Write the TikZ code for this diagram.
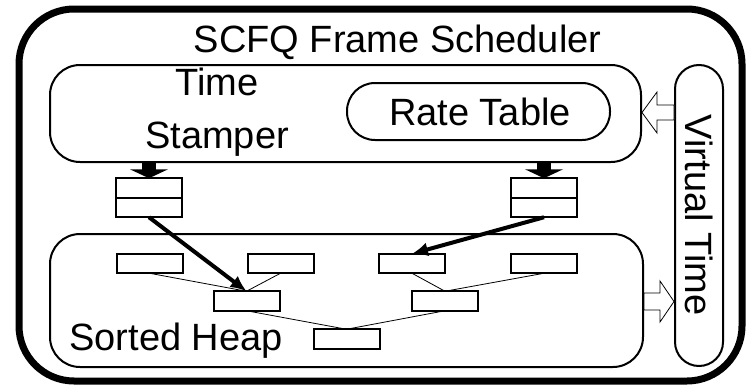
\documentclass[tikz,border=0pt]{standalone}
\usepackage{fontspec}
\setmainfont{Liberation Sans}
\usetikzlibrary{arrows.meta}

\begin{document}
\begin{tikzpicture}[x=1pt, y=-1pt, every node/.style={font=\fontsize{38}{53}\selectfont, inner sep=0pt},
	box/.style={draw, line width=2pt, rounded corners=#1},
	slot/.style={draw, line width=2pt, outer sep=0pt, minimum width=66pt, minimum height=19.5pt},
	link/.style={line width=0.8pt},
	push/.style={line width=4pt, -{Latex[length=16pt,width=14pt]}},
	feed/.style={line width=14pt, -{Triangle[length=9pt,width=38pt]}},
	hollow/.style={draw, line width=0.8pt, fill=white}]
	\useasboundingbox (0,0) rectangle (747,388);
	\node[box=55pt, line width=7pt, minimum width=723pt, minimum height=372pt] (frame) at (380.5,195) {};
	\node[anchor=base] (title) at (397.5,52) {SCFQ Frame Scheduler};
	\node[box=30pt, minimum width=591pt, minimum height=97pt] (stamper) at (345.5,113.5) {};
	\node[align=center] (stamplbl) at (217,112) {Time\\Stamper};
	\node[box=28pt, minimum width=263pt, minimum height=57pt] (rates) at (478.5,111.5) {};
	\node[anchor=base] (rateslbl) at (480,125) {Rate Table};
	\node[box=24pt, minimum width=48pt, minimum height=301pt] (vtime) at (699,215.5) {};
	\node[rotate=-90] (vtimelbl) at (699,215) {Virtual Time};
	\node[box=30pt, minimum width=593pt, minimum height=133pt] (heap) at (346.5,300.5) {};
	\node[anchor=base] (heaplbl) at (176,350) {Sorted Heap};

	\node[slot] (qA1) at (149,188) {};
	\node[slot, anchor=north] (qA2) at (qA1.south) {};
	\node[slot] (qB1) at (544,188) {};
	\node[slot, anchor=north] (qB2) at (qB1.south) {};

	\node[slot] (h1) at (149.5,263.5) {};
	\node[slot] (h2) at (280.5,263.5) {};
	\node[slot] (h3) at (412,263.5) {};
	\node[slot] (h4) at (544,263.5) {};
	\node[slot] (h5) at (246.5,301) {};
	\node[slot] (h6) at (445,301) {};
	\node[slot] (h7) at (346.5,339) {};

	\draw[link] (h1.south) -- (h5.north);
	\draw[link] (h2.south) -- (h5.north);
	\draw[link] (h3.south) -- (h6.north);
	\draw[link] (h4.south) -- (h6.north);
	\draw[link] (h5.south) -- (h7.north);
	\draw[link] (h6.south) -- (h7.north);

	\draw[feed] (qA1.north |- stamper.south) -- (qA1.north);
	\draw[feed] (qB1.north |- stamper.south) -- (qB1.north);
	\draw[push] (qA2.south) -- (h5.north);
	\draw[push] (qB2.south) -- (h3.north);

	\draw[hollow] (vtime.west |- 0,105) -- (657,105) -- (657,92) -- (stamper.east |- 0,112.5)
		-- (657,133) -- (657,120) -- (vtime.west |- 0,120) -- cycle;
	\draw[hollow] (heap.east |- 0,293) -- (660,293) -- (660,281) -- (vtime.west |- 0,301.5)
		-- (660,322) -- (660,310) -- (heap.east |- 0,310) -- cycle;
\end{tikzpicture}
\end{document}
